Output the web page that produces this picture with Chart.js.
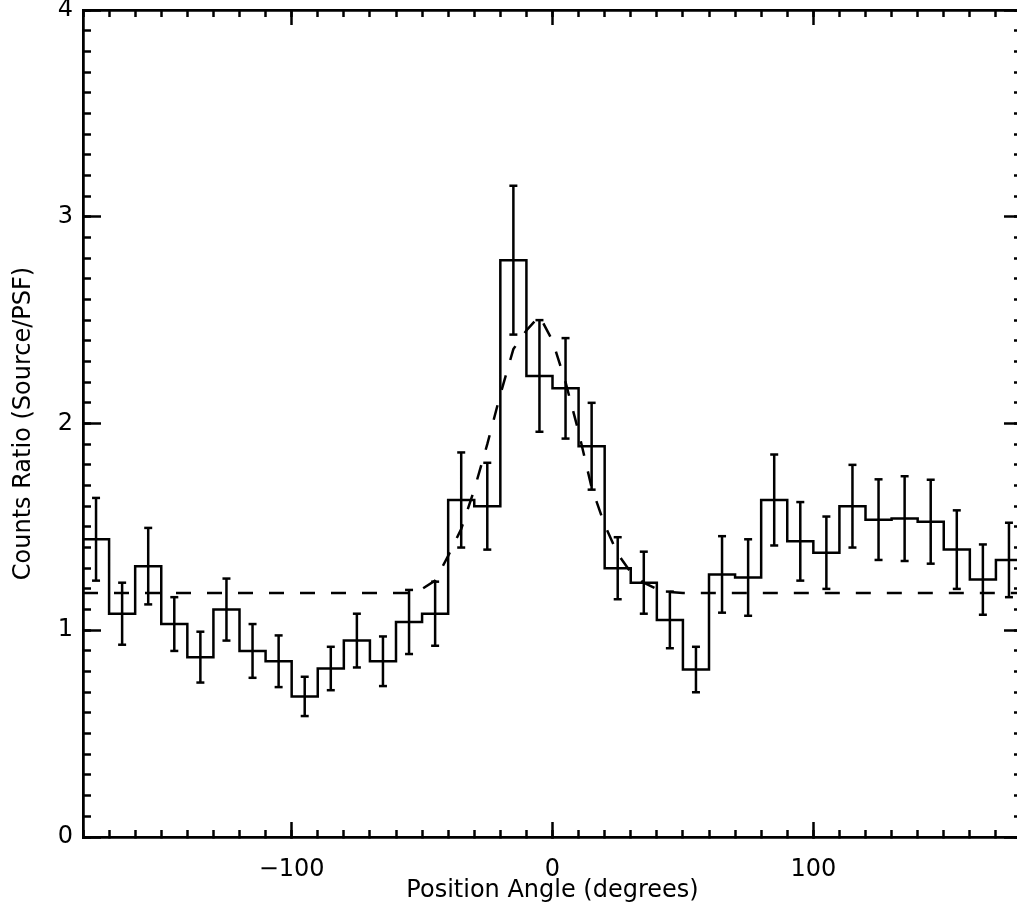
<!DOCTYPE html>
<html><head><meta charset="utf-8">
<script src="https://cdn.jsdelivr.net/npm/chart.js@4/dist/chart.umd.min.js"></script>
<style>
html,body{margin:0;padding:0;background:#fff;overflow:hidden;}
#wrap{position:relative;width:1035px;height:922px;}
</style></head><body>
<div id="wrap"><canvas id="c" width="1035" height="922"></canvas></div>
<script>
// ---- data ----
const binCenters = [-175,-165,-155,-145,-135,-125,-115,-105,-95,-85,-75,-65,-55,-45,-35,-25,-15,-5,
                    5,15,25,35,45,55,65,75,85,95,105,115,125,135,145,155,165,175];
const ratio = [1.44,1.08,1.31,1.03,0.87,1.10,0.90,0.85,0.68,0.815,0.95,0.85,1.04,1.08,1.63,1.60,2.79,2.23,
               2.17,1.89,1.30,1.23,1.05,0.81,1.27,1.255,1.63,1.43,1.375,1.60,1.535,1.54,1.525,1.39,1.245,1.34];
const ratioErr = [0.20,0.15,0.185,0.13,0.123,0.15,0.13,0.125,0.095,0.105,0.13,0.12,0.155,0.155,0.23,0.21,0.36,0.27,
                  0.243,0.21,0.15,0.15,0.137,0.11,0.185,0.185,0.22,0.19,0.175,0.20,0.195,0.205,0.203,0.19,0.17,0.18];
const modelAngle = [-180,-55,-50,-45,-40,-35,-30,-25,-20,-15,-10,-5,0,5,10,15,20,25,30,35,40,45,50,180];
const modelRatio = [1.18,1.18,1.20,1.24,1.36,1.49,1.68,1.90,2.14,2.36,2.45,2.52,2.40,2.20,1.96,1.69,1.51,1.37,1.28,1.23,1.20,1.185,1.18,1.18];
const xTickLabels = [-100, 0, 100];
const yTickLabels = [0, 1, 2, 3, 4];

const halfBin = (binCenters[1] - binCenters[0]) / 2;
const histPts = binCenters.map((c, i) => ({x: c - halfBin, y: ratio[i]}));
histPts.push({x: binCenters[binCenters.length - 1] + halfBin, y: ratio[ratio.length - 1]});
const errPts = [];
binCenters.forEach((c, i) => {
  errPts.push({x: c, y: ratio[i] - ratioErr[i]});
  errPts.push({x: c, y: ratio[i] + ratioErr[i]});
  errPts.push({x: c, y: null});
});
const modelPts = modelAngle.map((a, i) => ({x: a, y: modelRatio[i]}));

const FONT = 'DejaVu Sans';
const tickFont = {family: FONT, size: 24};
const titleFont = {family: FONT, size: 24};
const LW = 2.5;
const fmt = v => (v < 0 ? '\u2212' + Math.abs(v) : String(v));

function zeroPad(s) { s.paddingTop = 0; s.paddingBottom = 0; s.paddingLeft = 0; s.paddingRight = 0; }

function axis(pos, isX, step, tl, weight) {
  return {
    type: 'linear', position: pos, weight: weight,
    min: isX ? -180 : 0, max: isX ? 180 : 4,
    ticks: {stepSize: step, includeBounds: false, autoSkip: false, maxRotation: 0,
            callback: () => '', color: '#000', font: tickFont, padding: 0},
    grid: {drawOnChartArea: false, drawTicks: true, tickLength: tl, tickWidth: LW, tickColor: '#000'},
    border: {display: true, color: '#000', width: LW},
    afterFit: s => { if (isX) s.height = 0; else s.width = 0; zeroPad(s); }
  };
}

const scales = {
  x: axis('bottom', true, 100, -15, 1),
  xMinor: axis('bottom', true, 10, -7, 0),
  xTop: axis('top', true, 100, -15, 1),
  xTopMinor: axis('top', true, 10, -7, 0),
  y: axis('left', false, 1, -18, 1),
  yMinor: axis('left', false, 0.1, -8, 0),
  yRight: axis('right', false, 1, -18, 1),
  yRightMinor: axis('right', false, 0.1, -8, 0)
};
scales.x.ticks.callback = v => (xTickLabels.includes(v) ? fmt(v) : '');
scales.x.ticks.padding = 33;
scales.x.title = {display: true, text: 'Position Angle (degrees)', color: '#000', font: titleFont, padding: {top: 0, bottom: 17}};
scales.x.afterFit = s => { s.height = 85; zeroPad(s); };
scales.y.ticks.callback = v => (yTickLabels.includes(v) ? String(v) : '');
scales.y.ticks.padding = 28;
scales.y.title = {display: true, text: 'Counts Ratio (Source/PSF)', color: '#000', font: titleFont, padding: {top: 9, bottom: 0}};
scales.y.afterFit = s => { s.width = 83; zeroPad(s); };

new Chart(document.getElementById('c'), {
  type: 'line',
  data: {
    datasets: [
      {label: 'hist', data: histPts, xAxisID: 'x', yAxisID: 'y', stepped: 'before',
       borderColor: '#000', borderWidth: LW, pointRadius: 0, fill: false, tension: 0},
      {label: 'err', data: errPts, xAxisID: 'x', yAxisID: 'y', spanGaps: false,
       borderColor: '#000', borderWidth: LW, pointStyle: 'line', pointRadius: 4,
       pointBorderWidth: LW, pointBorderColor: '#000', fill: false, tension: 0},
      {label: 'model', data: modelPts, xAxisID: 'x', yAxisID: 'y',
       borderColor: '#000', borderWidth: LW, borderDash: [15, 16], pointRadius: 0, fill: false, tension: 0}
    ]
  },
  options: {
    responsive: false, animation: false, devicePixelRatio: 1,
    layout: {padding: {top: 10, right: 13, left: 0, bottom: 0}},
    plugins: {legend: {display: false}, tooltip: {enabled: false}},
    scales: scales
  }
});
</script>
</body></html>
